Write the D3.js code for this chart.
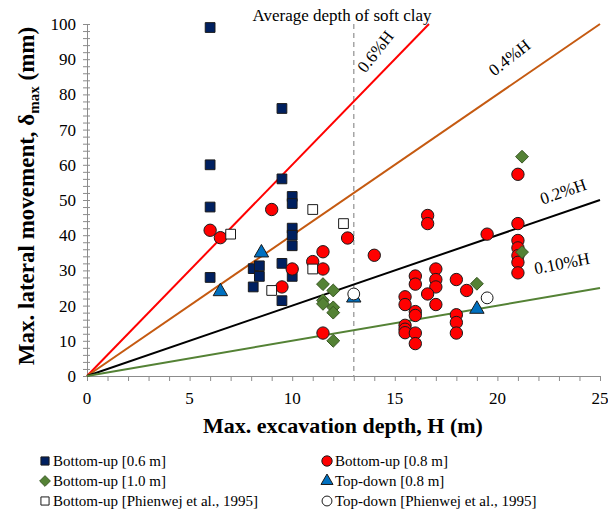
<!DOCTYPE html>
<html>
<meta charset="utf-8">
<script src="https://d3js.org/d3.v7.min.js"></script>
<style>
body { margin: 0; background: #fff; }
text { font-family: "Liberation Serif", "Times New Roman", serif; fill: #000; }
</style>
<body>
<div id="chart"></div>
<script>
// data: [H (m), delta max (mm)]
var bottomUp06 = [[6,99],[6,60],[6,48],[6,28],[9.5,76],[9.5,56],[10,51],[10,49],[10,42],[10,40],[10,37],
  [9.5,32],[8.1,30.5],[8.4,31.3],[8.4,28.3],[8.1,25.3],[10,28.3],[9.5,21.4]];
var bottomUp08 = [[6,41.4],[6.5,39.3],[9,47.3],[12.7,39.2],[11.5,35.3],[11,32.5],[11.5,30.4],[10,30.4],[9.5,25.3],
  [11.5,12.2],[14,34.3],[16.6,45.6],[16.6,43.3],[19.5,40.3],[16,28.4],[16,26.1],[17,30.4],[17,27.4],[17,25.3],
  [18,27.4],[16.6,23.3],[17,20.3],[18.5,24.3],[15.5,22.5],[15.5,20.3],[16,18.3],[16,17.2],[15.5,14.4],[15.5,13.3],
  [15.5,12.3],[16,12.2],[16,9.2],[18,17.4],[18,15.2],[18,12.2],[21,57.3],[21,43.3],[21,38.5],[21,36.4],[21,34.2],
  [21,32.3],[21,29.3]];
var bottomUp10 = [[11.5,26.1],[12,24.3],[11.5,21.5],[11.5,20.5],[12,19.5],[12,18],[12,10],[21.2,62.3],[21.2,35.2],[19,26.2]];
var topDown08 = [[8.5,35],[6.5,24],[13,22.2],[19,19]];
var bottomUpPhienwej = [[7,40.3],[11,47.3],[12.5,43.3],[11,30.4],[9,24.3]];
var topDownPhienwej = [[13,23.3],[19.5,22.2]];

// reference lines delta = ratio% of H
var ratioLines = [0.6, 0.4, 0.2, 0.1];
var ratioLabels = ["0.6%H", "0.4%H", "0.2%H", "0.10%H"];
var softClayDepth = 13;

var xTicks = [0, 5, 10, 15, 20, 25];
var yTicks = [0, 10, 20, 30, 40, 50, 60, 70, 80, 90, 100];

var W = 608, H = 513;
var pL = 87, pR = 600, pT = 24, pB = 376;

var svg = d3.select("#chart").append("svg").attr("width", W).attr("height", H);

var x = d3.scaleLinear().domain([0, 25]).range([pL, pR]);
var y = d3.scaleLinear().domain([0, 100]).range([pB, pT]);

// dashed line for soft clay
svg.append("line")
  .attr("x1", x(softClayDepth)).attr("x2", x(softClayDepth))
  .attr("y1", y(100)).attr("y2", y(0))
  .attr("stroke", "#a6a6a6").attr("stroke-width", 1.5).attr("stroke-dasharray", "5,4");
svg.append("text").attr("x", 342).attr("y", 21).attr("text-anchor", "middle")
  .style("font-size", "17px").text("Average depth of soft clay");

// axes
var xAxis = d3.axisBottom(x).tickValues(d3.range(0, 26, 1)).tickSize(5).tickSizeOuter(0).tickFormat("");
svg.append("g").attr("transform", "translate(0," + pB + ")").call(xAxis)
  .call(function(g) { g.selectAll("line,path").attr("stroke", "#8c8c8c"); });
var yAxis = d3.axisLeft(y).tickValues(d3.range(0, 101, 2)).tickSize(5).tickSizeOuter(0).tickFormat("");
svg.append("g").attr("transform", "translate(" + pL + ",0)").call(yAxis)
  .call(function(g) {
    g.selectAll("line,path").attr("stroke", "#8c8c8c");
    g.selectAll(".tick line").attr("x2", 3).attr("x1", -4);
  });

svg.selectAll(".xl").data(xTicks).enter().append("text")
  .attr("x", function(d) { return x(d); }).attr("y", 404)
  .attr("text-anchor", "middle").style("font-size", "17px").text(function(d) { return d; });
svg.selectAll(".yl").data(yTicks).enter().append("text")
  .attr("x", 76).attr("y", function(d) { return y(d) + 6; })
  .attr("text-anchor", "end").style("font-size", "17px").text(function(d) { return d; });

svg.append("text").attr("x", 343).attr("y", 433).attr("text-anchor", "middle")
  .style("font-size", "22px").style("font-weight", "bold").text("Max. excavation depth, H (m)");
var yt = svg.append("text").attr("transform", "translate(34,196) rotate(-90)")
  .attr("text-anchor", "middle").style("font-size", "23px").style("font-weight", "bold");
yt.append("tspan").text("Max. lateral movement, δ");
yt.append("tspan").attr("baseline-shift", "-30%").style("font-size", "15px").text("max");
yt.append("tspan").text(" (mm)");

// ratio lines
var lineColors = ["#ff0000", "#c55a11", "#000000", "#548235"];
ratioLines.forEach(function(r, i) {
  var hEnd = Math.min(25, 100 / (r * 10));
  svg.append("line")
    .attr("x1", x(0)).attr("y1", y(0))
    .attr("x2", x(hEnd)).attr("y2", y(r * 10 * hEnd))
    .attr("stroke", lineColors[i]).attr("stroke-width", 2);
});
var labelPos = [[380, 55, -52], [513, 62, -38], [565, 197, -19], [563, 269, -11]];
ratioLabels.forEach(function(t, i) {
  svg.append("text")
    .attr("transform", "translate(" + labelPos[i][0] + "," + labelPos[i][1] + ") rotate(" + labelPos[i][2] + ")")
    .attr("text-anchor", "middle").style("font-size", "17px").text(t);
});

// markers
var symSquare = d3.symbol().type(d3.symbolSquare);
var symCircle = d3.symbol().type(d3.symbolCircle);
var symDiamond = d3.symbol().type(d3.symbolDiamond2);
var symTriangle = d3.symbol().type(d3.symbolTriangle);

var series = [
  { name: "Bottom-up [0.6 m]", data: bottomUp06, sym: symSquare, size: 95, fill: "#002060", stroke: "#1a1a1a" },
  { name: "Bottom-up [0.8 m]", data: bottomUp08, sym: symCircle, size: 120, fill: "#ff0000", stroke: "#1a1a1a" },
  { name: "Bottom-up [1.0 m]", data: bottomUp10, sym: symDiamond, size: 105, fill: "#548235", stroke: "#385723" },
  { name: "Top-down [0.8 m]", data: topDown08, sym: symTriangle, size: 90, fill: "#0070c0", stroke: "#1a1a1a" },
  { name: "Bottom-up [Phienwej et al., 1995]", data: bottomUpPhienwej, sym: symSquare, size: 95, fill: "#ffffff", stroke: "#1a1a1a" },
  { name: "Top-down [Phienwej et al., 1995]", data: topDownPhienwej, sym: symCircle, size: 110, fill: "#ffffff", stroke: "#1a1a1a" }
];

series.forEach(function(s) {
  svg.append("g").selectAll("path").data(s.data).enter().append("path")
    .attr("transform", function(d) { return "translate(" + x(d[0]) + "," + y(d[1]) + ")"; })
    .attr("d", s.sym.size(s.size)())
    .attr("fill", s.fill).attr("stroke", s.stroke).attr("stroke-width", 1);
});

// legend
var legX = [45, 327], legY = [461, 481, 501];
series.forEach(function(s, i) {
  var lx = legX[i % 2], ly = legY[Math.floor(i / 2)];
  svg.append("path").attr("transform", "translate(" + lx + "," + ly + ")")
    .attr("d", s.sym.size(s.size * 0.7)())
    .attr("fill", s.fill).attr("stroke", s.stroke).attr("stroke-width", 1);
  svg.append("text").attr("x", lx + 8).attr("y", ly + 5)
    .style("font-size", "15px").text(s.name);
});
</script>
</body>
</html>
